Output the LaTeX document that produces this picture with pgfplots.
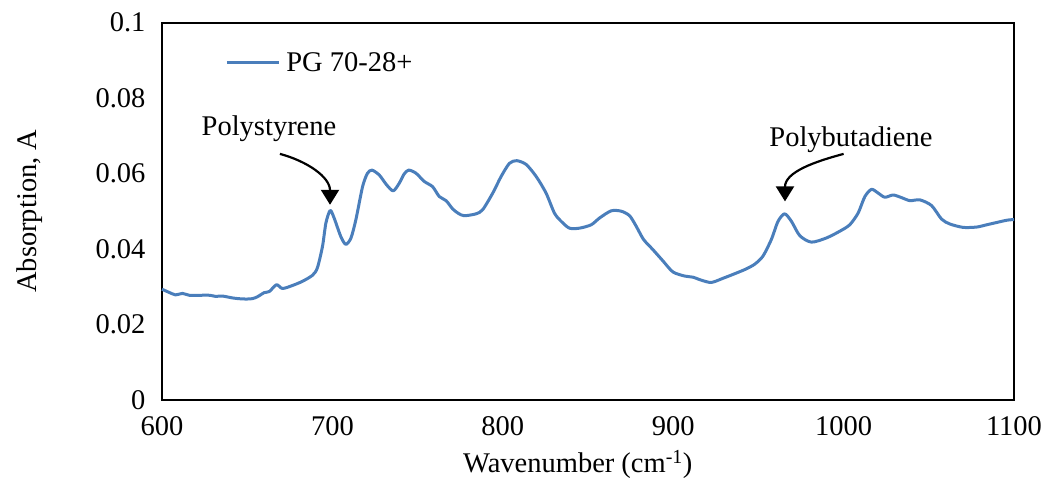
\documentclass[border=0pt]{standalone}
\usepackage{pgfplots}
\pgfplotsset{compat=1.18}
\usetikzlibrary{arrows.meta}
\usepackage{fontspec}
\setmainfont{Liberation Serif}
\definecolor{exblue}{HTML}{4A7EBB}
\pgfplotstableread{
x y
600 0.0293
604 0.0285
608 0.0278
612 0.0282
616 0.0277
622 0.0277
628 0.0277
631.5 0.0274
635.4 0.0275
641.3 0.0270
645 0.0268
649.2 0.0267
653 0.0268
656 0.0273
660 0.0284
663 0.0287
667.2 0.0305
670.7 0.0295
676.6 0.0303
682.4 0.0314
688.3 0.0330
691.2 0.0350
694.2 0.0407
696.2 0.0469
698.7 0.0502
701 0.0482
705 0.0432
707.9 0.0412
710.9 0.0429
713.8 0.0478
717.7 0.0565
720.5 0.0600
723.2 0.0609
727.5 0.0596
731.8 0.0570
735.7 0.0554
739.2 0.0574
742 0.0598
744.7 0.0609
749 0.0601
753.9 0.0579
758.8 0.0565
762.7 0.0539
766.7 0.0528
770.6 0.0506
774 0.0494
777.4 0.0488
784.3 0.0493
788.2 0.0504
794.1 0.0548
799 0.0592
803.9 0.0627
808.2 0.0634
813.7 0.0624
819.6 0.0592
825.4 0.0548
830.3 0.0495
834.3 0.0473
839.1 0.0455
845 0.0455
851.9 0.0464
856.8 0.0482
863.6 0.0501
869.5 0.0500
874.4 0.0488
878.3 0.0460
882.6 0.0425
888.1 0.0398
894 0.0368
899.8 0.0339
906.7 0.0328
911.6 0.0325
916.5 0.0317
922.4 0.0311
929.2 0.0322
936 0.0334
942.9 0.0347
948 0.0360
952.7 0.0381
957.6 0.0425
961.5 0.0473
965.4 0.0493
969.4 0.0473
974.3 0.0435
981.1 0.0418
989.9 0.0429
997.8 0.0447
1003.6 0.0464
1008.5 0.0495
1012.5 0.0539
1016.4 0.0558
1020.3 0.0548
1024.2 0.0537
1029.1 0.0543
1034 0.0536
1038.9 0.0528
1044.8 0.0530
1051.6 0.0515
1057.5 0.0479
1062.4 0.0466
1070.2 0.0457
1078.1 0.0458
1084 0.0464
1089.8 0.0470
1095.7 0.0476
1100 0.0478
}\spectrum
\begin{document}
\begin{tikzpicture}
\begin{axis}[
  name=ax,
  scale only axis,
  width=852pt, height=377pt,
  xmin=600, xmax=1100, ymin=0, ymax=0.1,
  xtick={600,700,...,1100},
  ytick={0,0.02,...,0.1},
  yticklabels={0,0.02,0.04,0.06,0.08,0.1},
  axis line style={line width=2pt},
  major tick length=0pt,
  font=\fontsize{28.5}{34}\selectfont,
  /pgf/number format/assume math mode=true,
  /pgf/number format/1000 sep={},
  xticklabel style={yshift=-13pt},
  yticklabel style={xshift=-13pt},
  xlabel={Wavenumber (cm\textsuperscript{-1})},
  ylabel={Absorption, A},
  xlabel style={at={(axis description cs:0.488,-0.172)}, anchor=center},
  ylabel style={at={(axis description cs:-0.155,0.5)}, anchor=center},
  legend style={at={(axis description cs:0.074,0.894)}, anchor=west, draw=none, fill=none, inner sep=0pt,
    nodes={inner sep=0pt}, /tikz/every odd column/.append style={column sep=6pt}},
  legend image code/.code={\draw[#1] (0pt,0pt) -- (52pt,0pt);},
  clip=false,
]
\addplot[exblue, line width=3pt, line join=round, smooth, tension=0.45] table[x=x,y=y]{\spectrum};
\addlegendentry{PG 70-28+}
\node[anchor=base] at (axis cs:662.8,0.0702) {Polystyrene};
\node[anchor=base] at (axis cs:1004.3,0.0671) {Polybutadiene};
\draw[line width=2.2pt, -{Triangle[width=18pt,length=15pt]}] (axis cs:669.2,0.0652) to[out=-15,in=90] (axis cs:698.6,0.0517);
\draw[line width=2.2pt, -{Triangle[width=18pt,length=15pt]}] (axis cs:1000,0.0652) to[out=195,in=90] (axis cs:965.6,0.0526);
\end{axis}
\pgfresetboundingbox
\path[use as bounding box] ([shift={(-162pt,-90pt)}]ax.south west) rectangle ([shift={(31pt,22.7pt)}]ax.north east);
\end{tikzpicture}
\end{document}
